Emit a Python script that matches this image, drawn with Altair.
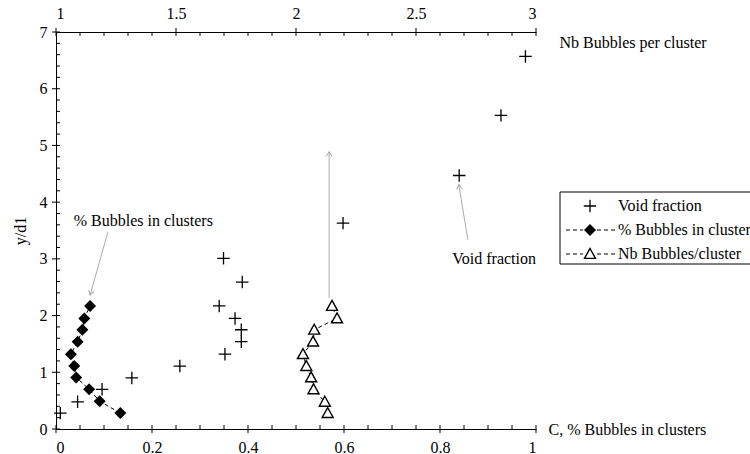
import math
import altair as alt
import pandas as pd

# Void fraction C against depth y/d1 (bottom axis)
void_c = [0.009, 0.045, 0.096, 0.158, 0.258, 0.352, 0.386, 0.386, 0.373, 0.340,
          0.388, 0.349, 0.598, 0.840, 0.927, 0.978]
void_y = [0.28, 0.48, 0.70, 0.90, 1.11, 1.32, 1.54, 1.75, 1.95, 2.17,
          2.59, 3.01, 3.63, 4.47, 5.53, 6.57]

# Fraction of bubbles travelling in clusters (bottom axis)
pct_c = [0.134, 0.091, 0.069, 0.042, 0.038, 0.031, 0.045, 0.055, 0.059, 0.071]
pct_y = [0.28, 0.49, 0.70, 0.91, 1.11, 1.32, 1.54, 1.75, 1.95, 2.17]

# Mean number of bubbles per cluster (top axis)
nb_val = [2.132, 2.120, 2.073, 2.063, 2.043, 2.029, 2.071, 2.076, 2.171, 2.150]
nb_y = [0.28, 0.48, 0.70, 0.91, 1.11, 1.32, 1.54, 1.75, 1.95, 2.17]

bottom_ticks = [0, 0.2, 0.4, 0.6, 0.8, 1]
top_ticks = [1, 1.5, 2, 2.5, 3]
left_ticks = [0, 1, 2, 3, 4, 5, 6, 7]

legend_labels = ["Void fraction", "% Bubbles in cluster", "Nb Bubbles/cluster"]

W, H = 480, 397
FONT = "Liberation Serif, Times New Roman, serif"
FS = 16

xb = alt.Scale(domain=[0, 1], nice=False, zero=False)
xt = alt.Scale(domain=[1, 3], nice=False, zero=False)
ys = alt.Scale(domain=[0, 7], nice=False, zero=False)

axis_style = dict(domainColor="black", domainWidth=1, ticks=False, grid=False,
                  labelFont=FONT, labelFontSize=FS, labelColor="black",
                  titleFont=FONT, titleFontSize=FS, titleColor="black",
                  titleFontWeight="normal", format="~g")

# one shared left axis for every layer that uses the depth scale
y_axis = alt.Axis(orient="left", values=left_ticks, labelPadding=9,
                  title="y/d1", titlePadding=11, **axis_style)


def Y(field):
    return alt.Y(field, scale=ys, axis=y_axis)


plus = "M-1,0L1,0M0,-1L0,1"
tri = "M0,-1L1,0.8L-1,0.8Z"

void_df = pd.DataFrame({"c": void_c, "y": void_y})
pct_df = pd.DataFrame({"c": pct_c, "y": pct_y})
nb_df = pd.DataFrame({"nb": nb_val, "y": nb_y})

# main series
crosses = alt.Chart(void_df).mark_point(shape=plus, size=156, filled=False,
                                          color="black", strokeWidth=1.3, opacity=1).encode(
    x=alt.X("c:Q", scale=xb,
            axis=alt.Axis(orient="bottom", values=bottom_ticks, labelPadding=10,
                          title="C, % Bubbles in clusters", titleX=W + 12, titleY=0,
                          titleAlign="left", titleBaseline="middle", titleAngle=0,
                          **axis_style)),
    y=Y("y:Q"),
)

pct_line = alt.Chart(pct_df).mark_line(color="black", strokeWidth=1, strokeDash=[4, 3]).encode(
    x=alt.X("c:Q", scale=xb, axis=None), y=Y("y:Q"), order="y:Q")
pct_pts = alt.Chart(pct_df).mark_point(shape="diamond", size=144, filled=True,
                                         color="black", opacity=1).encode(
    x=alt.X("c:Q", scale=xb, axis=None), y=Y("y:Q"))

nb_line = alt.Chart(nb_df).mark_line(color="black", strokeWidth=1, strokeDash=[4, 3]).encode(
    x=alt.X("nb:Q", scale=xt, axis=None), y=Y("y:Q"), order="y:Q")
nb_pts = alt.Chart(nb_df).mark_point(shape=tri, size=121, filled=False, fill="white",
                                       color="black", strokeWidth=1.4, opacity=1).encode(
    x=alt.X("nb:Q", scale=xt,
            axis=alt.Axis(orient="top", values=top_ticks, labelPadding=11,
                          title="Nb Bubbles per cluster", titleX=W + 23, titleY=10,
                          titleAlign="left", titleBaseline="middle", titleAngle=0,
                          **axis_style)),
    y=Y("y:Q"))


# tick marks drawn inward / crossing the axis lines
def minor(lo, hi, step, majors):
    vals, v = [], lo
    while v <= hi + 1e-9:
        if all(abs(v - m) > 1e-9 for m in majors):
            vals.append(round(v, 4))
        v += step
    return vals


tk = dict(color="black", strokeWidth=1)
b_major = alt.Chart(pd.DataFrame({"v": bottom_ticks})).mark_rule(**tk).encode(
    x=alt.X("v:Q", scale=xb, axis=None), y=alt.value(H - 4), y2=alt.value(H + 4))
b_minor = alt.Chart(pd.DataFrame({"v": minor(0, 1, 0.05, bottom_ticks)})).mark_rule(**tk).encode(
    x=alt.X("v:Q", scale=xb, axis=None), y=alt.value(H - 4), y2=alt.value(H))
t_major = alt.Chart(pd.DataFrame({"v": top_ticks})).mark_rule(**tk).encode(
    x=alt.X("v:Q", scale=xt, axis=None), y=alt.value(-4), y2=alt.value(4))
t_minor = alt.Chart(pd.DataFrame({"v": minor(1, 3, 0.1, top_ticks)})).mark_rule(**tk).encode(
    x=alt.X("v:Q", scale=xt, axis=None), y=alt.value(0), y2=alt.value(4))
l_major = alt.Chart(pd.DataFrame({"v": left_ticks})).mark_rule(**tk).encode(
    y=Y("v:Q"), x=alt.value(-4), x2=alt.value(4))
l_minor = alt.Chart(pd.DataFrame({"v": minor(0, 7, 0.2, left_ticks)})).mark_rule(**tk).encode(
    y=Y("v:Q"), x=alt.value(0), x2=alt.value(4))

# annotations with grey arrows
note1 = alt.Chart(pd.DataFrame({"x": [0.037], "y": [3.66], "t": ["% Bubbles in clusters"]})
                  ).mark_text(font=FONT, fontSize=FS, color="black",
                              align="left", baseline="middle").encode(
    x=alt.X("x:Q", scale=xb, axis=None), y=Y("y:Q"), text="t:N")
note2 = alt.Chart(pd.DataFrame({"x": [1.0], "y": [3.0], "t": ["Void fraction"]})
                  ).mark_text(font=FONT, fontSize=FS, color="black",
                              align="right", baseline="middle").encode(
    x=alt.X("x:Q", scale=xb, axis=None), y=Y("y:Q"), text="t:N")

arrows = pd.DataFrame({
    "x0": [0.108, 0.569, 0.858],
    "y0": [3.47, 2.31, 3.34],
    "x1": [0.071, 0.569, 0.839],
    "y1": [2.36, 4.89, 4.31],
})
# heading of each arrow on screen (degrees clockwise from straight up)
arrows["ang"] = [
    math.degrees(math.atan2((r.x1 - r.x0) * W, (r.y1 - r.y0) * H / 7.0))
    for r in arrows.itertuples()
]
grey = "#aaaaaa"
arrow_shaft = alt.Chart(arrows).mark_rule(color=grey, strokeWidth=1).encode(
    x=alt.X("x0:Q", scale=xb, axis=None), y=Y("y0:Q"), x2="x1:Q", y2="y1:Q")
arrow_head = alt.Chart(arrows).mark_point(shape="M-0.6,1L0,0L0.6,1", size=90,
                                           filled=False, color=grey, strokeWidth=1,
                                           opacity=1).encode(
    x=alt.X("x1:Q", scale=xb, axis=None), y=Y("y1:Q"),
    angle=alt.Angle("ang:Q", scale=None))

# legend box, drawn by hand to the right of the plot
one = pd.DataFrame({"k": [0]})
LX0, LX1, LY0, LY1 = W + 24, W + 230, 160, 232
rows = [174, 198, 222]
SX = W + 54
leg_box = alt.Chart(one).mark_rect(fill="white", stroke="black", strokeWidth=1).encode(
    x=alt.value(LX0), x2=alt.value(LX1), y=alt.value(LY0), y2=alt.value(LY1))
leg_text = [
    alt.Chart(one).mark_text(font=FONT, fontSize=FS, color="black", align="left",
                             baseline="middle", text=lab).encode(
        x=alt.value(W + 82), y=alt.value(r))
    for lab, r in zip(legend_labels, rows)
]
leg_dash = []
for r in rows[1:]:
    for a, b in [(W + 30, W + 47), (W + 61, W + 79)]:
        leg_dash.append(alt.Chart(one).mark_rule(color="black", strokeWidth=1,
                                                 strokeDash=[4, 3]).encode(
            x=alt.value(a), x2=alt.value(b), y=alt.value(r)))
leg_plus = alt.Chart(one).mark_point(shape=plus, size=156, filled=False, color="black",
                                     strokeWidth=1.3, opacity=1).encode(
    x=alt.value(SX), y=alt.value(rows[0]))
leg_dia = alt.Chart(one).mark_point(shape="diamond", size=144, filled=True, color="black",
                                    opacity=1).encode(x=alt.value(SX), y=alt.value(rows[1]))
leg_tri = alt.Chart(one).mark_point(shape=tri, size=121, filled=False, fill="white",
                                    color="black", strokeWidth=1.4, opacity=1).encode(
    x=alt.value(SX), y=alt.value(rows[2]))

chart = alt.layer(
    b_major, b_minor, t_major, t_minor, l_major, l_minor,
    arrow_shaft, arrow_head, note1, note2,
    pct_line, nb_line, crosses, pct_pts, nb_pts,
    leg_box, *leg_dash, leg_plus, leg_dia, leg_tri, *leg_text,
).resolve_scale(x="independent").properties(
    width=W, height=H,
    autosize=alt.AutoSizeParams(type="none"),
    padding={"left": 56, "top": 32, "right": 750 - 56 - W, "bottom": 454 - 32 - H},
    background="white",
).configure_view(stroke=None)

chart.save("out.html", embed_options={"renderer": "svg", "actions": False})
